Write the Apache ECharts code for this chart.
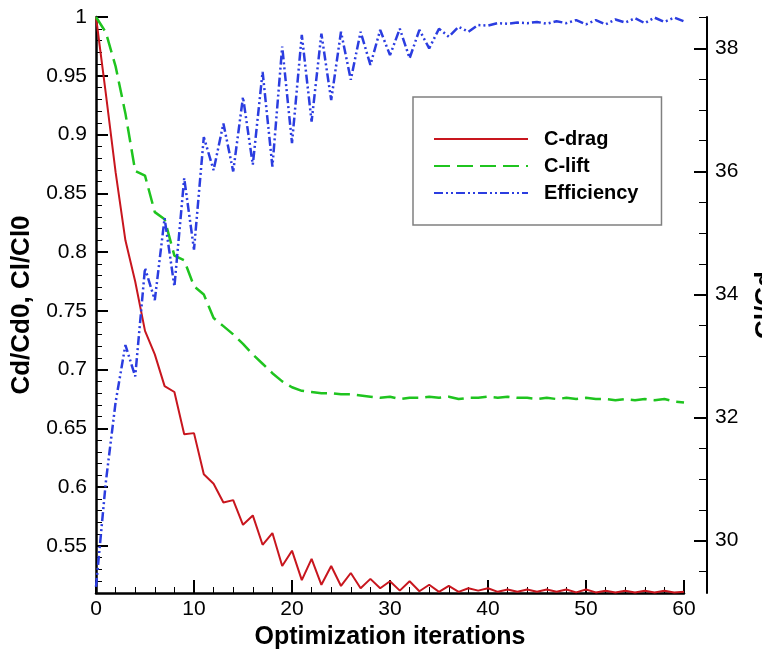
<!DOCTYPE html>
<html>
<head>
<meta charset="utf-8">
<script src="https://cdn.jsdelivr.net/npm/echarts@6/dist/echarts.min.js"></script>
<style>
html, body { margin: 0; padding: 0; background: #fff; }
#main { width: 762px; height: 649px; }
</style>
</head>
<body>
<div id="main"></div>
<script>
var iters = [0, 1, 2, 3, 4, 5, 6, 7, 8, 9, 10, 11, 12, 13, 14, 15, 16, 17, 18, 19, 20,
    21, 22, 23, 24, 25, 26, 27, 28, 29, 30, 31, 32, 33, 34, 35, 36, 37, 38, 39, 40,
    41, 42, 43, 44, 45, 46, 47, 48, 49, 50, 51, 52, 53, 54, 55, 56, 57, 58, 59, 60];

// Cd/Cd0
var drag = [1.000, 0.935, 0.868, 0.810, 0.775, 0.733, 0.713, 0.686, 0.681, 0.645, 0.646,
    0.611, 0.603, 0.587, 0.589, 0.568, 0.576, 0.551, 0.561, 0.533, 0.546,
    0.521, 0.539, 0.517, 0.533, 0.516, 0.527, 0.514, 0.522, 0.514, 0.520,
    0.512, 0.520, 0.5115, 0.517, 0.511, 0.516, 0.511, 0.514, 0.512, 0.514,
    0.511, 0.513, 0.511, 0.513, 0.511, 0.513, 0.511, 0.513, 0.5105, 0.513,
    0.5105, 0.512, 0.5105, 0.512, 0.5105, 0.512, 0.5105, 0.512, 0.5105, 0.511];

// Cl/Cl0
var lift = [1.000, 0.987, 0.958, 0.918, 0.869, 0.865, 0.834, 0.828, 0.797, 0.793, 0.771,
    0.764, 0.744, 0.737, 0.730, 0.722, 0.713, 0.705, 0.697, 0.690, 0.685,
    0.682, 0.681, 0.680, 0.680, 0.679, 0.679, 0.678, 0.677, 0.676, 0.677,
    0.675, 0.676, 0.676, 0.677, 0.676, 0.677, 0.675, 0.676, 0.676, 0.677,
    0.676, 0.677, 0.676, 0.676, 0.675, 0.676, 0.675, 0.676, 0.675, 0.676,
    0.675, 0.675, 0.674, 0.675, 0.674, 0.675, 0.674, 0.675, 0.673, 0.672];

// Cl/Cd (right axis)
var efficiency = [29.25, 30.95, 32.25, 33.18, 32.67, 34.43, 33.91, 35.24, 34.13, 35.89, 34.73,
    36.56, 36.02, 36.78, 36.00, 37.21, 36.11, 37.62, 36.08, 38.03, 36.46,
    38.22, 36.81, 38.24, 37.16, 38.27, 37.49, 38.27, 37.73, 38.30, 37.89,
    38.32, 37.84, 38.30, 38.00, 38.32, 38.19, 38.35, 38.27, 38.38, 38.37,
    38.41, 38.40, 38.42, 38.41, 38.43, 38.40, 38.44, 38.41, 38.46, 38.39,
    38.46, 38.39, 38.47, 38.42, 38.49, 38.41, 38.50, 38.43, 38.50, 38.44];

var leftTicks = [0.55, 0.6, 0.65, 0.7, 0.75, 0.8, 0.85, 0.9, 0.95, 1];
var rightTicks = [30, 32, 34, 36, 38];

var FONT = '"Liberation Sans", Arial, sans-serif';
var LEFT_MIN = 0.51, LEFT_MAX = 1;
var RIGHT_MIN = 29.15, RIGHT_MAX = 38.51;

// minor tick positions
var leftMinor = [];
for (var k = 51; k < 100; k++) {
    if (k % 5 !== 0) leftMinor.push(k / 100);
}
var rightMinor = [];
for (var m = 59; m <= 77; m++) {
    if (m % 4 !== 0) rightMinor.push(m / 2);
}

function pairs(vals) {
    return iters.map(function (x, i) { return [x, vals[i]]; });
}

var myChart = echarts.init(document.getElementById('main'));

var option = {
    animation: false,
    backgroundColor: '#fff',
    textStyle: { fontFamily: FONT },
    grid: { left: 96, right: 78, top: 17, bottom: 56, containLabel: false, outerBoundsMode: 'none' },
    legend: {
        orient: 'vertical',
        left: 413,
        top: 97,
        padding: [32, 23, 22, 20],
        itemWidth: 94,
        itemHeight: 20,
        itemGap: 7,
        borderColor: '#808080',
        borderWidth: 1.5,
        itemStyle: { color: 'transparent', borderWidth: 0, opacity: 0 },
        textStyle: { fontFamily: FONT, fontSize: 20, fontWeight: 'bold', color: '#000', padding: [0, 0, 0, 11] },
        data: ['C-drag', 'C-lift', 'Efficiency']
    },
    xAxis: {
        type: 'value',
        min: 0,
        max: 60,
        interval: 10,
        name: 'Optimization iterations',
        nameLocation: 'middle',
        nameGap: 25,
        nameTextStyle: { fontFamily: FONT, fontSize: 25, fontWeight: 'bold', color: '#000' },
        axisLine: { show: true, onZero: false, lineStyle: { color: '#000', width: 2.5 } },
        axisTick: { show: true, inside: true, length: 13, lineStyle: { color: '#000', width: 2 } },
        minorTick: { show: true, splitNumber: 5, length: 6, lineStyle: { color: '#000', width: 1 } },
        axisLabel: { fontFamily: FONT, fontSize: 21, color: '#000', margin: 6 },
        splitLine: { show: false }
    },
    yAxis: [{
        type: 'value',
        position: 'left',
        min: LEFT_MIN,
        max: LEFT_MAX,
        name: 'Cd/Cd0, Cl/Cl0',
        nameLocation: 'middle',
        nameGap: 58,
        nameTextStyle: { fontFamily: FONT, fontSize: 26, fontWeight: 'bold', color: '#000' },
        axisLine: { show: true, onZero: false, lineStyle: { color: '#000', width: 2.5 } },
        axisTick: { show: true, inside: true, length: 12, customValues: leftTicks, lineStyle: { color: '#000', width: 2 } },
        axisLabel: { fontFamily: FONT, fontSize: 21, color: '#000', margin: 9, customValues: leftTicks },
        splitLine: { show: false }
    }, {
        type: 'value',
        position: 'right',
        offset: 23,
        min: RIGHT_MIN,
        max: RIGHT_MAX,
        name: 'Cl/Cd',
        nameLocation: 'middle',
        nameGap: 46,
        nameTextStyle: { fontFamily: FONT, fontSize: 26, fontWeight: 'bold', color: '#000' },
        axisLine: { show: true, onZero: false, lineStyle: { color: '#000', width: 2 } },
        axisTick: { show: true, inside: true, length: 13, customValues: rightTicks, lineStyle: { color: '#000', width: 2 } },
        axisLabel: { fontFamily: FONT, fontSize: 21, color: '#000', margin: 8, customValues: rightTicks },
        splitLine: { show: false }
    }, {
        type: 'value',
        position: 'left',
        min: LEFT_MIN,
        max: LEFT_MAX,
        axisLine: { show: false },
        axisTick: { show: true, inside: true, length: 6, customValues: leftMinor, lineStyle: { color: '#000', width: 1 } },
        axisLabel: { show: false },
        splitLine: { show: false }
    }, {
        type: 'value',
        position: 'right',
        offset: 23,
        min: RIGHT_MIN,
        max: RIGHT_MAX,
        axisLine: { show: false },
        axisTick: { show: true, inside: true, length: 8, customValues: rightMinor, lineStyle: { color: '#000', width: 1 } },
        axisLabel: { show: false },
        splitLine: { show: false }
    }],
    series: [{
        name: 'C-drag',
        type: 'line',
        yAxisIndex: 0,
        data: pairs(drag),
        symbol: 'none',
        itemStyle: { color: '#c8161e' },
        lineStyle: { color: '#c8161e', width: 2 }
    }, {
        name: 'C-lift',
        type: 'line',
        yAxisIndex: 0,
        data: pairs(lift),
        symbol: 'none',
        itemStyle: { color: '#1fc41f' },
        lineStyle: { color: '#1fc41f', width: 2.5, type: [16, 7] }
    }, {
        name: 'Efficiency',
        type: 'line',
        yAxisIndex: 1,
        data: pairs(efficiency),
        symbol: 'none',
        itemStyle: { color: '#2b3de0' },
        lineStyle: { color: '#2b3de0', width: 2.5, type: [9, 3, 2, 3, 2, 3] }
    }]
};

myChart.setOption(option);
</script>
</body>
</html>
